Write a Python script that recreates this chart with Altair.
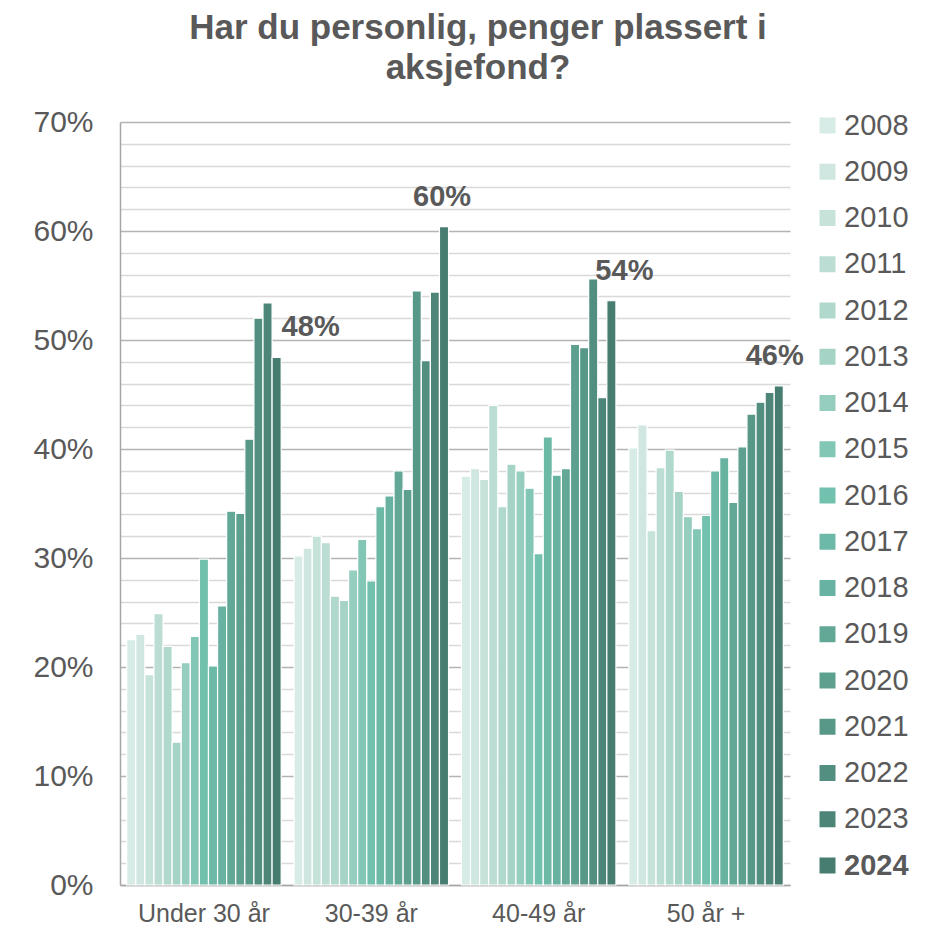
import altair as alt
import pandas as pd

YEARS = [str(y) for y in range(2008, 2025)]
GROUPS = ["Under 30 år", "30-39 år", "40-49 år", "50 år +"]

UNDER_30 = [22.5, 23.0, 19.3, 24.9, 21.9, 13.1, 20.4, 22.8, 29.9, 20.1, 25.6, 34.3, 34.1, 40.9, 52.0, 53.4, 48.4]
AGE_30_39 = [30.2, 30.9, 32.0, 31.4, 26.5, 26.1, 28.9, 31.7, 27.9, 34.7, 35.7, 38.0, 36.3, 54.5, 48.1, 54.4, 60.4]
AGE_40_49 = [37.5, 38.2, 37.2, 44.0, 34.7, 38.6, 38.0, 36.4, 30.4, 41.1, 37.6, 38.2, 49.6, 49.3, 55.6, 44.7, 53.6]
AGE_50_PLUS = [40.1, 42.2, 32.5, 38.3, 39.9, 36.1, 33.8, 32.7, 33.9, 38.0, 39.2, 35.1, 40.2, 43.2, 44.3, 45.2, 45.8]

SERIES = [UNDER_30, AGE_30_39, AGE_40_49, AGE_50_PLUS]

COLORS = ["#d7ece6", "#cfe7e0", "#c6e3da", "#bbddd4", "#b0d8cd", "#a5d3c6",
          "#95cdbe", "#82c6b5", "#72c1ae", "#6cb9a8", "#67b2a0", "#63a897",
          "#5ea08f", "#589888", "#538f80", "#4d8679", "#477c70"]

TITLE = ["Har du personlig, penger plassert i", "aksjefond?"]

# style constants (label offsets in px)
LABEL_DX = [34, -2, 13, -4]
TEXT = "#595959"
FONT = "Liberation Sans"

rows = []
for g, vals in zip(GROUPS, SERIES):
    for y, v in zip(YEARS, vals):
        rows.append({"group": g, "year": y, "value": v})
df = pd.DataFrame(rows)

x_enc = alt.X("group:N", sort=GROUPS,
              scale=alt.Scale(domain=GROUPS, paddingInner=0.077, paddingOuter=0.04),
              axis=alt.Axis(title=None, labelAngle=0, ticks=False, domain=True,
                            domainColor="#a6a6a6", domainWidth=1.5, grid=False,
                            labelFontSize=25, labelPadding=16, labelColor=TEXT, labelFont=FONT))
xoff_enc = alt.XOffset("year:N", sort=YEARS,
                       scale=alt.Scale(domain=YEARS, paddingInner=0, paddingOuter=0))
y_enc = alt.Y("value:Q", scale=alt.Scale(domain=[0, 70], nice=False),
              axis=alt.Axis(title=None, values=list(range(0, 71, 2)),
                            labelExpr="datum.value % 10 === 0 ? datum.value + '%' : ''",
                            ticks=False, domain=True, domainColor="#a6a6a6", domainWidth=1.5,
                            gridColor={"condition": {"test": "datum.value % 10 === 0", "value": "#b3b3b3"},
                                       "value": "#d9d9d9"},
                            gridWidth=1.5, labelFontSize=30, labelPadding=27,
                            labelColor=TEXT, labelFont=FONT))

bars = alt.Chart(df).mark_bar(stroke="white", strokeWidth=1.2).encode(
    x=x_enc,
    xOffset=xoff_enc,
    y=y_enc,
    color=alt.Color("year:N", sort=YEARS,
                    scale=alt.Scale(domain=YEARS, range=COLORS),
                    legend=alt.Legend(title=None, orient="none", legendX=693, legendY=-11,
                                      symbolType="square", symbolSize=256, symbolStrokeWidth=0,
                                      labelFontSize=29, labelColor=TEXT, labelFont=FONT,
                                      labelFontWeight={"expr": "datum.value === '2024' ? 'bold' : 'normal'"},
                                      rowPadding=16.25, labelOffset=2, padding=0)),
)

layers = [bars]
for i, (g, vals) in enumerate(zip(GROUPS, SERIES)):
    last = vals[-1]
    tdf = pd.DataFrame({"group": [g], "year": [YEARS[-1]], "value": [last],
                        "label": [f"{int(round(last))}%"]})
    layers.append(
        alt.Chart(tdf).mark_text(dx=LABEL_DX[i], dy=-30, fontSize=29, fontWeight="bold",
                                 color=TEXT, font=FONT, baseline="middle").encode(
            x=x_enc, xOffset=xoff_enc, y=y_enc, text="label:N")
    )

chart = alt.layer(*layers).properties(
    width=670, height=763,
    autosize=alt.AutoSizeParams(type="none"),
    padding={"left": 112, "top": 114, "right": 126, "bottom": 40},
    title=alt.Title(TITLE, anchor="middle", frame="group", dx=23, offset=21,
                    fontSize=35, fontWeight="bold", color=TEXT, font=FONT, lineHeight=40),
).configure_view(stroke=None)

chart.save("out.html", embed_options={"renderer": "svg", "actions": False})
